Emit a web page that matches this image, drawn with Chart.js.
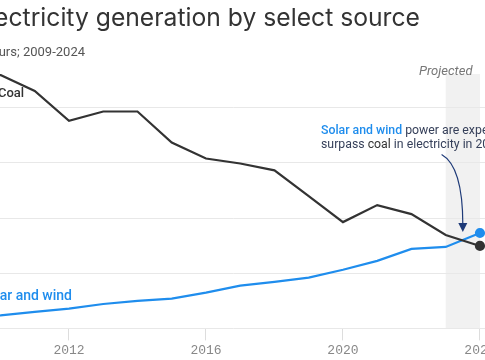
<!DOCTYPE html>
<html>
<head>
<meta charset="utf-8">
<script src="https://cdn.jsdelivr.net/npm/chart.js@4.4.1/dist/chart.umd.min.js"></script>
<style>
  html, body { margin: 0; padding: 0; background: #fff; }
  body { position: relative; width: 485px; height: 360px; overflow: hidden; font-family: Roboto, "Open Sans", sans-serif; }
  #wrap { position: absolute; left: -120px; top: 0; width: 640px; height: 360px; }
  .txt { position: absolute; white-space: nowrap; }
  #title { right: 65px; top: 2px; font-family: Inter, sans-serif; font-size: 24.7px; line-height: 30px; color: #333; }
  #subtitle { right: 400px; top: 44px; font-size: 13px; line-height: 16px; color: #555; }
  #lbl-coal { left: -2px; top: 85px; font-size: 13px; line-height: 16px; color: #333; font-weight: 500; }
  #lbl-solar { right: 413px; top: 287px; font-size: 14px; line-height: 16px; color: #1f8ded; font-weight: 500; }
  #projected { left: 419px; top: 63px; font-size: 13px; line-height: 16px; color: #777; font-style: italic; }
  #note { left: 321px; top: 123px; font-size: 12.3px; line-height: 14px; color: #36405a; }
  #note .blue { color: #1f8ded; font-weight: 500; }
  #note .coal { color: #333; }
</style>
</head>
<body>
<div id="wrap"><canvas id="chart"></canvas></div>
<div class="txt" id="title">U.S. electricity generation by select source</div>
<div class="txt" id="subtitle">Billion kilowatt-hours; 2009-2024</div>
<div class="txt" id="lbl-coal">Coal</div>
<div class="txt" id="lbl-solar">Solar and wind</div>
<div class="txt" id="projected">Projected</div>
<div class="txt" id="note"><span class="blue">Solar and wind</span> power are expected to<br>surpass <span class="coal">coal</span> in electricity in 2024.</div>
<script>
(function () {
  "use strict";
  // billion kWh (2009 is off the left edge, estimated)
  const years = [2009, 2010, 2011, 2012, 2013, 2014, 2015, 2016, 2017, 2018, 2019, 2020, 2021, 2022, 2023, 2024];
  const coal = [1755, 1838, 1722, 1506, 1573, 1573, 1348, 1232, 1196, 1146, 959, 771, 894, 829, 677, 598];
  const solarWind = [75, 94, 120, 144, 177, 200, 216, 259, 310, 337, 368, 425, 490, 577, 591, 692];
  const xTicks = [2012, 2016, 2020, 2024];
  const yTicks = [0, 400, 800, 1200, 1600];
  const projected = [2023, 2024];
  // arrow from the note down to the crossing: [year, value]
  const arrowFrom = [2022.88, 1261];
  const arrowTo = [2023.5, 699];

  const BLUE = "#1f8ded", DARK = "#333333";
  const pts = (vals) => years.map((y, i) => ({ x: y, y: vals[i] }));
  const lastOnly = (r) => years.map((_, i) => (i === years.length - 1 ? r : 0));

  const shade = {
    id: "shade",
    beforeDraw(c) {
      const { ctx, chartArea: a, scales: { x } } = c;
      ctx.save();
      ctx.fillStyle = "#f1f1f1";
      const x0 = x.getPixelForValue(projected[0]), x1 = x.getPixelForValue(projected[1]);
      ctx.fillRect(x0, a.top, x1 - x0, a.bottom - a.top);
      ctx.restore();
    }
  };

  const arrow = {
    id: "arrow",
    afterDatasetsDraw(c) {
      const { ctx, scales: { x, y } } = c;
      const sx = x.getPixelForValue(arrowFrom[0]), sy = y.getPixelForValue(arrowFrom[1]);
      const ex = x.getPixelForValue(arrowTo[0]), ey = y.getPixelForValue(arrowTo[1]);
      ctx.save();
      ctx.strokeStyle = "#1e3a78";
      ctx.fillStyle = "#1e3a78";
      ctx.lineWidth = 1.2;
      ctx.beginPath();
      ctx.moveTo(sx, sy);
      ctx.quadraticCurveTo(ex, sy + 12, ex, ey - 7);
      ctx.stroke();
      ctx.beginPath();
      ctx.moveTo(ex, ey);
      ctx.lineTo(ex - 4.5, ey - 9);
      ctx.lineTo(ex + 4.5, ey - 9);
      ctx.closePath();
      ctx.fill();
      ctx.restore();
    }
  };

  new Chart(document.getElementById("chart"), {
    type: "line",
    data: {
      datasets: [
        { label: "Coal", data: pts(coal), borderColor: DARK, backgroundColor: DARK, borderWidth: 2.2,
          pointRadius: lastOnly(4), pointHoverRadius: 0, tension: 0 },
        { label: "Solar and wind", data: pts(solarWind), borderColor: BLUE, backgroundColor: BLUE, borderWidth: 2.2,
          pointRadius: lastOnly(4), pointHoverRadius: 0, tension: 0 }
      ]
    },
    options: {
      responsive: true,
      maintainAspectRatio: false,
      animation: false,
      events: [],
      layout: { padding: { left: 86.25, right: 19.5, top: 74, bottom: 0 } },
      plugins: { legend: { display: false }, tooltip: { enabled: false } },
      scales: {
        x: {
          type: "linear", min: 2009, max: 2024.6,
          afterBuildTicks: (s) => { s.ticks = xTicks.map((v) => ({ value: v })); },
          border: { display: false },
          grid: { drawOnChartArea: false, drawTicks: true, tickLength: 12, color: "#dddddd" },
          ticks: { padding: 2, color: "#888", font: { family: "'Liberation Mono', 'DejaVu Sans Mono', monospace", size: 13 },
                   callback: (v) => String(v), maxRotation: 0 }
        },
        y: {
          min: 0, max: 1845,
          afterBuildTicks: (s) => { s.ticks = yTicks.map((v) => ({ value: v })); },
          ticks: { display: false },
          border: { display: false },
          grid: { drawTicks: false, color: "#e8e8e8" }
        }
      }
    },
    plugins: [shade, arrow]
  });
})();
</script>
</body>
</html>
